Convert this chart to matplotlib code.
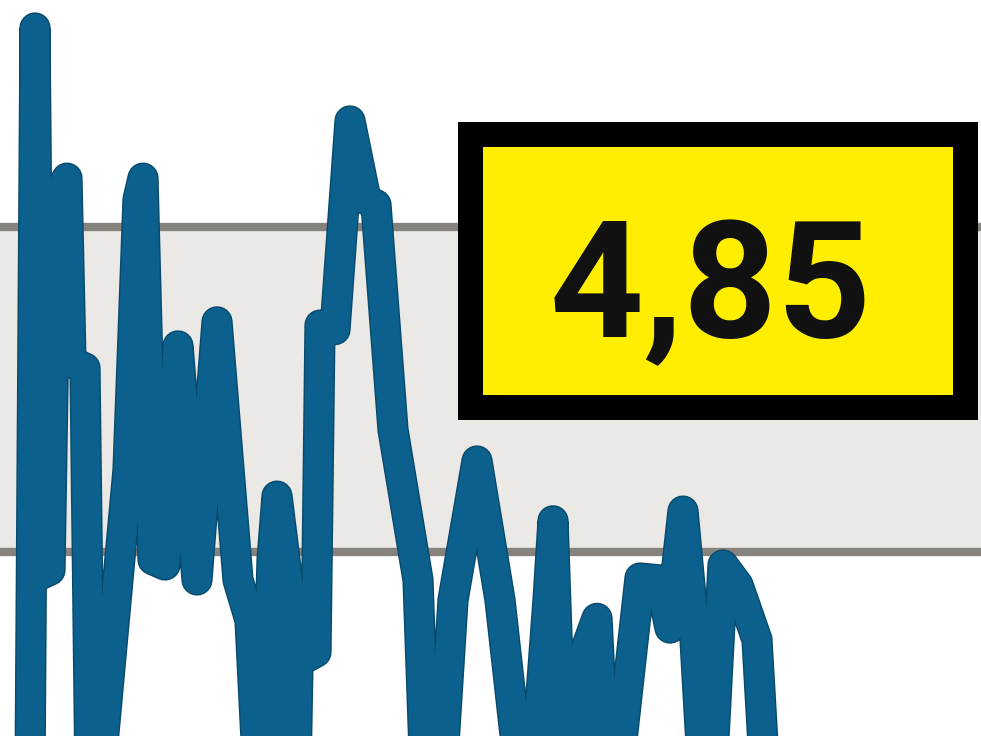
import matplotlib
matplotlib.use('Agg')
import matplotlib.pyplot as plt
import matplotlib.patheffects as pe
from matplotlib.patches import Rectangle

# sessoes (eixo x) e cotacao
sessoes = [3.0, 3.5, 4.0, 5.0, 5.6, 6.7, 7.1, 8.5, 9.0, 10.0,
           12.8, 13.8, 14.3, 15.3, 16.5, 17.8, 19.7, 21.7, 23.8, 25.0,
           25.8, 26.6, 27.2, 27.7, 29.0, 29.2, 29.6, 29.8, 31.6, 32.0,
           33.5, 35.0, 36.6, 37.6, 39.3, 41.8, 42.5, 44.2, 45.3, 47.7,
           50.0, 52.0, 53.5, 54.8, 55.3, 56.2, 57.5, 58.0, 59.7, 60.5,
           61.8, 64.0, 66.0, 67.0, 68.3, 69.5, 70.3, 71.2, 72.3, 73.8,
           75.7, 76.5]
cotacao = [4.150, 5.306, 4.465, 4.472, 5.045, 5.075, 4.792, 4.783, 4.150, 4.155,
           4.626, 5.042, 5.075, 4.488, 4.480, 4.817, 4.457, 4.854, 4.457, 4.395,
           4.150, 4.155, 4.488, 4.586, 4.426, 4.150, 4.155, 4.331, 4.346, 4.849,
           4.842, 5.163, 5.042, 5.034, 4.688, 4.457, 4.150, 4.155, 4.426, 4.640,
           4.426, 4.150, 4.155, 4.426, 4.548, 4.150, 4.155, 4.326, 4.398, 4.150,
           4.155, 4.460, 4.457, 4.383, 4.563, 4.365, 4.150, 4.155, 4.480, 4.449,
           4.365, 4.150]

faixa = (4.5, 5.0)
ultimo = "4,85"

azul = '#0b608e'
cinza_linha = '#86837e'
cinza_faixa = '#ebe9e5'
amarelo = '#ffee00'

fig = plt.figure(figsize=(9.81, 7.36), dpi=100)
ax = fig.add_axes([0, 0, 1, 1])
ax.set_xlim(0, 98.1)
ax.set_ylim(4.217, 5.349)
ax.axis('off')

ax.axhspan(faixa[0], faixa[1], color=cinza_faixa, lw=0, zorder=0)
for y in faixa:
    ax.axhline(y, color=cinza_linha, lw=6, zorder=1)

ax.plot(sessoes, cotacao, color=azul, lw=20.5, solid_joinstyle='round',
        solid_capstyle='round', zorder=3,
        path_effects=[pe.Stroke(linewidth=22.5, foreground='#094a6c'), pe.Normal()])

# caixa com o ultimo valor
ax.add_patch(Rectangle((0.4786, 0.4466), 0.5055, 0.371, transform=ax.transAxes,
                       facecolor=amarelo, edgecolor='black', lw=18,
                       joinstyle='miter', zorder=5))
ax.text(0.7248, 0.5421, ultimo, transform=ax.transAxes, ha='center', va='baseline',
        fontsize=118, fontweight='bold', color='#111111',
        family=['Roboto', 'DejaVu Sans'], zorder=6)

fig.savefig('out.png', dpi=100)
